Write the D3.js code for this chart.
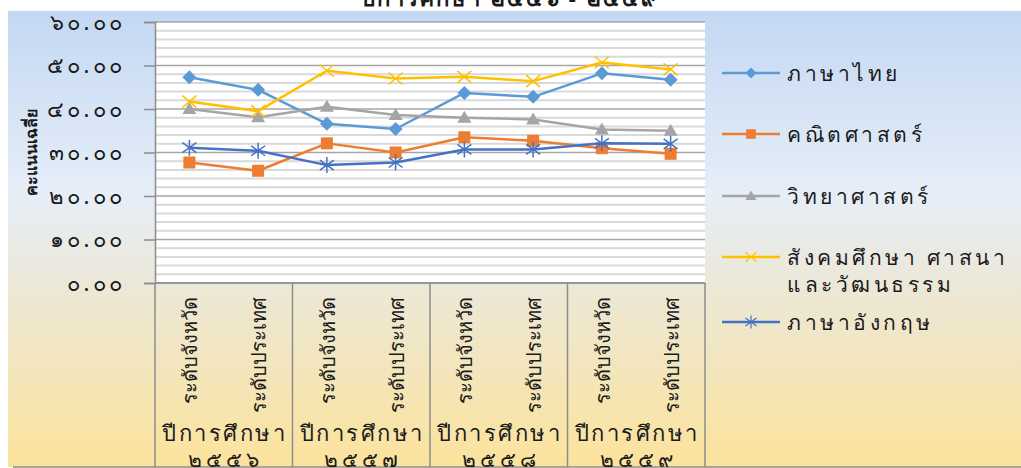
<!DOCTYPE html>
<html>
<head>
<meta charset="utf-8">
<title>คะแนนเฉลี่ย ปีการศึกษา ๒๕๕๖ - ๒๕๕๙</title>
<script src="https://cdn.jsdelivr.net/npm/d3@7"></script>
<style>
  body { margin: 0; background: #fff; }
  text { font-family: "Noto Sans", "DejaVu Sans", sans-serif; fill: #1a1a1a; }
</style>
</head>
<body>
<script>
// ข้อมูล
var years = ["๒๕๕๖", "๒๕๕๗", "๒๕๕๘", "๒๕๕๙"];
var levels = ["ระดับจังหวัด", "ระดับประเทศ"];
var seriesNames = ["ภาษาไทย", "คณิตศาสตร์", "วิทยาศาสตร์", "สังคมศึกษา ศาสนา และวัฒนธรรม", "ภาษาอังกฤษ"];
var thai    = [47.3, 44.4, 36.6, 35.4, 43.7, 42.8, 48.2, 46.7];
var math    = [27.7, 25.8, 32.1, 30.0, 33.5, 32.7, 31.0, 29.7];
var science = [40.0, 38.1, 40.5, 38.6, 38.0, 37.6, 35.3, 35.0];
var social  = [41.7, 39.5, 48.8, 47.0, 47.4, 46.4, 50.7, 49.1];
var english = [31.1, 30.4, 27.1, 27.7, 30.7, 30.7, 32.1, 32.0];
var yTicks = [0, 10, 20, 30, 40, 50, 60];

var allSeries = [thai, math, science, social, english];
var colors = ["#5B9BD5", "#ED7D31", "#A5A5A5", "#FFC000", "#4472C4"];
var shapes = ["diamond", "square", "triangle", "x", "star"];

var W = 1021, H = 468;
var pLeft = 155, pRight = 705, pTop = 22, pBottom = 283;

var svg = d3.select("body").append("svg")
    .attr("width", W).attr("height", H);

// พื้นหลังไล่สี
var grad = svg.append("defs").append("linearGradient")
    .attr("id", "bg").attr("x1", 0).attr("y1", 0).attr("x2", 0).attr("y2", 1);
grad.append("stop").attr("offset", "0%").attr("stop-color", "#C3D8F3");
grad.append("stop").attr("offset", "40%").attr("stop-color", "#E6EEF8");
grad.append("stop").attr("offset", "60%").attr("stop-color", "#ECE8D8");
grad.append("stop").attr("offset", "100%").attr("stop-color", "#FCE39C");

svg.append("rect").attr("x", 8).attr("y", 11).attr("width", W - 8).attr("height", 456)
    .attr("fill", "url(#bg)");
svg.append("line").attr("x1", 13).attr("x2", W).attr("y1", 467).attr("y2", 467)
    .attr("stroke", "#8c8c8c").attr("stroke-width", 1.5);

// หัวเรื่อง (ถูกตัดด้านบน)
svg.append("text").attr("x", 510).attr("y", 6).attr("text-anchor", "middle")
    .attr("font-size", 22).attr("font-weight", "bold").attr("letter-spacing", 2)
    .text("ปีการศึกษา ๒๕๕๖ - ๒๕๕๙");

var cats = d3.range(years.length * levels.length);
var x = d3.scaleBand().domain(cats).range([pLeft, pRight]);
var y = d3.scaleLinear().domain([0, 60]).range([pBottom, pTop]);

function thaiDigits(s) {
    return String(s).replace(/[0-9]/g, function (c) { return String.fromCharCode(0x0E50 + (+c)); });
}

// พื้นที่กราฟ
svg.append("rect").attr("x", pLeft).attr("y", pTop)
    .attr("width", pRight - pLeft).attr("height", pBottom - pTop).attr("fill", "#fff");

// เส้นกริดย่อย
svg.append("g").selectAll("line")
    .data(d3.range(0, 61, 2).filter(function (d) { return d % 10 != 0; }))
    .enter().append("line")
    .attr("x1", pLeft).attr("x2", pRight)
    .attr("y1", function (d) { return y(d); }).attr("y2", function (d) { return y(d); })
    .attr("stroke", "#D9D9D9").attr("stroke-width", 2);

// เส้นกริดหลัก
svg.append("g").selectAll("line")
    .data(yTicks)
    .enter().append("line")
    .attr("x1", pLeft).attr("x2", pRight)
    .attr("y1", function (d) { return y(d); }).attr("y2", function (d) { return y(d); })
    .attr("stroke", "#A6A6A6").attr("stroke-width", 1.5);

// แกน y
var yAxis = svg.append("g").attr("transform", "translate(" + pLeft + ",0)")
    .call(d3.axisLeft(y).tickValues(yTicks).tickSize(11).tickPadding(18)
        .tickFormat(function (d) { return thaiDigits(d3.format(".2f")(d)); }));
yAxis.select(".domain").attr("stroke", "#8c8c8c").attr("stroke-width", 1.5);
yAxis.selectAll(".tick line").attr("stroke", "#8c8c8c").attr("stroke-width", 1.5);
yAxis.selectAll(".tick text").attr("font-size", 22).attr("letter-spacing", 3.5)
    .style("font-family", "\"Noto Sans\", \"DejaVu Sans\", sans-serif").attr("fill", "#1a1a1a");

svg.append("text").attr("transform", "translate(37,152) rotate(-90)")
    .attr("text-anchor", "middle").attr("font-size", 16).attr("font-weight", "bold")
    .text("คะแนนเฉลี่ย");

// แกน x แบบสองระดับ
svg.append("line").attr("x1", pLeft).attr("x2", pRight).attr("y1", pBottom).attr("y2", pBottom)
    .attr("stroke", "#8c8c8c").attr("stroke-width", 1.5);
svg.append("g").selectAll("line")
    .data(d3.range(years.length + 1))
    .enter().append("line")
    .attr("x1", function (d) { return pLeft + d * 2 * x.bandwidth(); })
    .attr("x2", function (d) { return pLeft + d * 2 * x.bandwidth(); })
    .attr("y1", pBottom).attr("y2", 467)
    .attr("stroke", "#8c8c8c").attr("stroke-width", 1.5);

svg.append("g").selectAll("text")
    .data(cats)
    .enter().append("text")
    .attr("transform", function (d) {
        return "translate(" + (x(d) + x.bandwidth() / 2 + 8) + ",297) rotate(-90)";
    })
    .attr("text-anchor", "end").attr("font-size", 20)
    .text(function (d) { return levels[d % levels.length]; });

var yg = svg.append("g").selectAll("g")
    .data(years)
    .enter().append("g");
yg.append("text")
    .attr("x", function (d, i) { return pLeft + (i + 0.5) * 2 * x.bandwidth() + 1; })
    .attr("y", 441).attr("text-anchor", "middle").attr("font-size", 22).attr("letter-spacing", 2.5)
    .text("ปีการศึกษา");
yg.append("text")
    .attr("x", function (d, i) { return pLeft + (i + 0.5) * 2 * x.bandwidth() + 2; })
    .attr("y", 467).attr("text-anchor", "middle").attr("font-size", 21).attr("letter-spacing", 4)
    .text(function (d) { return d; });

// สัญลักษณ์
function marker(g, shape, color) {
    if (shape == "diamond") {
        g.append("path").attr("d", "M0,-7L7,0L0,7L-7,0Z").attr("fill", color);
    } else if (shape == "square") {
        g.append("rect").attr("x", -6).attr("y", -6).attr("width", 12).attr("height", 12).attr("fill", color);
    } else if (shape == "triangle") {
        g.append("path").attr("d", "M0,-7L7,5L-7,5Z").attr("fill", color);
    } else if (shape == "x") {
        g.append("path").attr("d", "M-7,-6L7,6M-7,6L7,-6").attr("stroke", color).attr("stroke-width", 1.5);
    } else {
        g.append("path").attr("d", "M-7,-5L7,5M-7,5L7,-5M0,-8L0,8").attr("stroke", color).attr("stroke-width", 1.5);
    }
}

var line = d3.line()
    .x(function (d, i) { return x(i) + x.bandwidth() / 2; })
    .y(function (d) { return y(d); });

allSeries.forEach(function (s, k) {
    svg.append("path").datum(s).attr("d", line)
        .attr("fill", "none").attr("stroke", colors[k]).attr("stroke-width", 2.5)
        .attr("stroke-linejoin", "round");
    svg.append("g").selectAll("g")
        .data(s)
        .enter().append("g")
        .attr("transform", function (d, i) {
            return "translate(" + (x(i) + x.bandwidth() / 2) + "," + y(d) + ")";
        })
        .each(function () { marker(d3.select(this), shapes[k], colors[k]); });
});

// คำอธิบาย
var legY = [73, 134, 196, 257, 322];
var leg = svg.append("g").selectAll("g")
    .data(seriesNames)
    .enter().append("g")
    .attr("transform", function (d, i) { return "translate(722," + legY[i] + ")"; });
leg.append("line").attr("x1", 0).attr("x2", 58)
    .attr("stroke", function (d, i) { return colors[i]; }).attr("stroke-width", 2.5);
leg.each(function (d, i) {
    var g = d3.select(this).append("g").attr("transform", "translate(29,0) scale(0.8)");
    marker(g, shapes[i], colors[i]);
});
leg.append("text").attr("x", 65).attr("y", 8).attr("font-size", 21).attr("letter-spacing", 3.5)
    .each(function (d) {
        var t = d3.select(this);
        if (d.indexOf(" และ") > 0) {
            t.append("tspan").attr("x", 65).text("สังคมศึกษา ศาสนา");
            t.append("tspan").attr("x", 65).attr("dy", 27).text("และวัฒนธรรม");
        } else {
            t.text(d);
        }
    });
</script>
</body>
</html>
